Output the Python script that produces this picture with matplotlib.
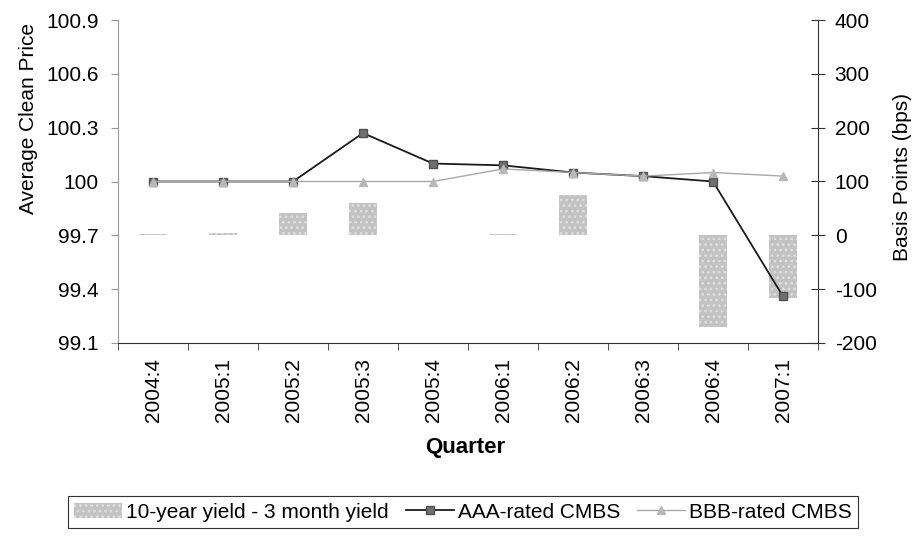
import matplotlib
matplotlib.use("Agg")
import matplotlib.pyplot as plt
import numpy as np

plt.rcParams['font.family'] = ['Liberation Sans', 'DejaVu Sans']
plt.rcParams['hatch.linewidth'] = 1.2

quarters = ["2004:4", "2005:1", "2005:2", "2005:3", "2005:4", "2006:1",
            "2006:2", "2006:3", "2006:4", "2007:1"]
yield_spread = [2, 5, 41, 60, 0, 2, 74, 1, -171, -117]
aaa_price = [100.0, 100.0, 100.0, 100.27, 100.10, 100.09, 100.05, 100.03, 100.0, 99.36]
bbb_price = [100.0, 100.0, 100.0, 100.0, 100.0, 100.07, 100.05, 100.03, 100.05, 100.03]
left_ticks = [99.1, 99.4, 99.7, 100, 100.3, 100.6, 100.9]
left_ticklabels = ["99.1", "99.4", "99.7", "100", "100.3", "100.6", "100.9"]
right_ticks = [-200, -100, 0, 100, 200, 300, 400]

W, H = 917, 538
fig = plt.figure(figsize=(W/100, H/100), dpi=100)
ax = fig.add_axes([118/W, 1-343/H, 700/W, 323/H])
ax2 = ax.twinx()

x = np.arange(len(quarters))
bars = ax2.bar(x, yield_spread, width=0.4, facecolor='#c2c2c2',
               edgecolor='#dedede', linewidth=0, hatch='...',
               label='10-year yield - 3 month yield')
ax2.set_ylim(-200, 400)
ax2.set_yticks(right_ticks)
ax2.set_yticklabels([str(t) for t in right_ticks])

l1, = ax.plot(x, aaa_price, color='#1a1a1a', lw=1.3, marker='s', ms=6,
              mfc='#707070', mec='#505050', label='AAA-rated CMBS')
l2, = ax.plot(x, bbb_price, color='#a8a8a8', lw=1.0, marker='^', ms=6,
              mfc='#b8b8b8', mec='#b8b8b8', label='BBB-rated CMBS')
ax.set_zorder(ax2.get_zorder() + 1)
ax.patch.set_visible(False)

ax.set_ylim(99.1, 100.9)
ax.set_yticks(left_ticks)
ax.set_yticklabels(left_ticklabels)
ax.set_xlim(-0.5, len(quarters) - 0.5)
ax.set_xticks(x)
ax.set_xticklabels(quarters, rotation=90)
ax.set_xticks(np.arange(-0.5, len(quarters), 1.0), minor=True)
ax.tick_params(axis='x', which='major', length=0, pad=11, labelsize=15)
ax.tick_params(axis='x', which='minor', length=5, color='#333333')
ax.tick_params(axis='y', length=5, color='#999999', labelsize=15, pad=9)
ax2.tick_params(axis='y', length=10, direction='inout', color='#333333',
                labelsize=15, pad=7)

ax.spines['top'].set_visible(False)
ax2.spines['top'].set_visible(False)
ax.spines['left'].set_color('#999999')
ax2.spines['left'].set_visible(False)
ax.spines['right'].set_visible(False)
ax2.spines['right'].set_color('#333333')
ax2.spines['bottom'].set_visible(False)
ax.spines['bottom'].set_color('#333333')

fig.text(29/W, 1-119/H, 'Average Clean Price', rotation=90, ha='center',
         va='center', fontsize=15)
fig.text(903/W, 1-177/H, 'Basis Points (bps)', rotation=90, ha='center',
         va='center', fontsize=15)
fig.text(465/W, 1-448/H, 'Quarter', ha='center', va='center',
         fontsize=16, fontweight='bold')

leg = fig.legend([bars, l1, l2],
                 ['10-year yield - 3 month yield', 'AAA-rated CMBS', 'BBB-rated CMBS'],
                 loc='center', bbox_to_anchor=(463/W, 1-512/H), ncol=3,
                 frameon=True, fancybox=False, fontsize=15, handlelength=2.3,
                 columnspacing=0.8, handletextpad=0.2, borderpad=0.3)
leg.get_frame().set_edgecolor('#000000')
leg.get_frame().set_linewidth(0.8)

fig.savefig('out.png', dpi=100)
